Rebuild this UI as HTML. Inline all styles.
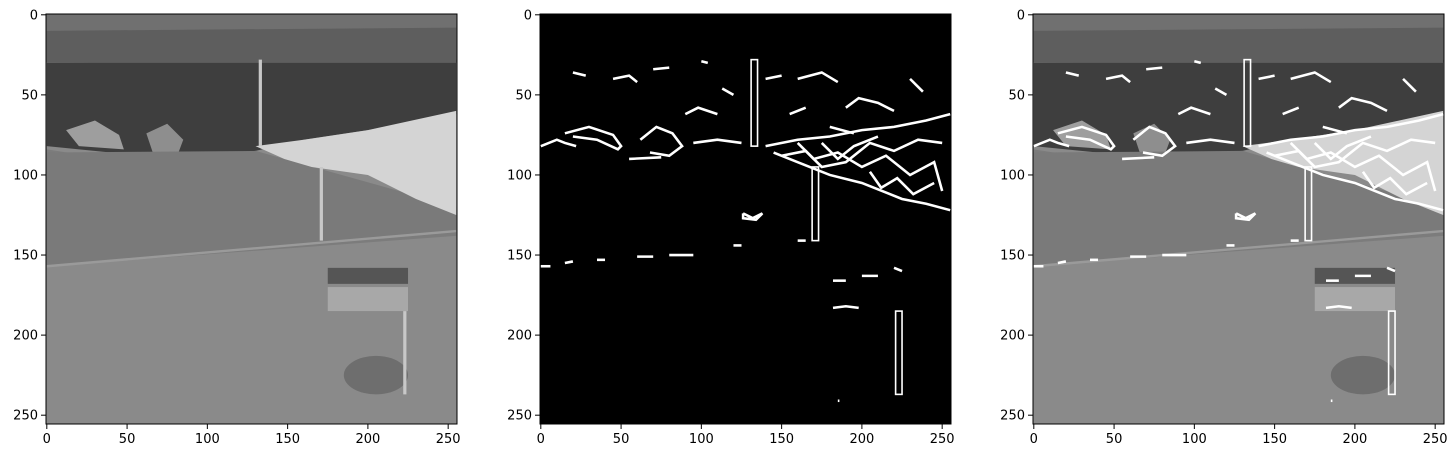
<!DOCTYPE html>
<html><head><meta charset="utf-8"><style>
body{margin:0;background:#fff;width:1455px;height:458px;overflow:hidden;font-family:"DejaVu Sans","Liberation Sans",sans-serif}
svg text{font-family:"DejaVu Sans","Liberation Sans",sans-serif;font-size:13px;fill:#000}
</style></head><body>
<svg id="fig" width="1455" height="458" xmlns="http://www.w3.org/2000/svg"></svg>
<script>
const ticks=[0,50,100,150,200,250];
const panelLefts=[46,540,1033];
const panelModes=["gray","edges","overlay"];
const poles=[[133,28,82],[171,95,141],[223,185,237]];
const edgeLines=[
[[20,36],[28,38]],[[45,40],[55,38],[60,42]],[[70,34],[80,33]],[[100,29],[104,30]],
[[0,82],[10,78],[15,80],[22,82]],[[15,74],[30,70],[45,75],[50,82],[48,84],[35,78],[20,76]],
[[55,90],[75,89]],[[62,78],[72,70],[82,74],[88,82],[80,88],[68,86]],
[[90,62],[98,58],[110,62]],[[95,80],[110,78],[125,80]],[[113,46],[120,50]],
[[140,40],[150,38]],[[160,40],[175,36],[185,42]],[[155,62],[165,58]],
[[190,58],[198,52],[210,55],[220,60]],[[180,70],[195,74]],[[230,40],[238,48]],
[[140,82],[160,78],[180,76],[200,72],[220,70],[240,66],[255,62]],
[[145,86],[160,92],[180,100],[200,105],[225,115],[240,118],[255,122]],
[[160,80],[170,90],[185,86],[200,95],[215,88],[230,100],[245,92],[250,110]],
[[150,88],[165,85],[175,95],[190,92],[205,80],[220,85],[235,78],[250,80]],
[[205,98],[212,108],[222,102],[232,112],[245,105]],[[175,80],[185,90],[195,82],[210,76]],
[[126,124],[132,127],[138,124],[134,128],[126,127],[126,124]],
[[0,157],[6,157]],[[15,155],[20,154]],[[35,153],[40,153]],[[60,151],[70,151]],[[80,150],[95,150]],
[[120,144],[125,144]],[[160,141],[165,141]],[[182,166],[190,166]],[[200,163],[210,163]],[[220,158],[225,160]],
[[182,183],[190,182],[198,183]],[[185,241],[186,241]]
];
const svg=document.getElementById('fig');
const NS='http://www.w3.org/2000/svg';
function mk(t,a,p){const e=document.createElementNS(NS,t);for(const k in a)e.setAttribute(k,a[k]);(p||svg).appendChild(e);return e;}
const W=411,H=410,TOP=14;
panelModes.forEach((mode,i)=>{
  const L=panelLefts[i];
  const g=mk('g',{});
  
  
  const inner=mk('svg',{x:L,y:TOP,width:W,height:H,viewBox:'-0.5 -0.5 256 256',preserveAspectRatio:'none'},g);
  if(mode==='edges'){
    mk('rect',{x:-0.5,y:-0.5,width:256,height:256,fill:'#000'},inner);
  }else{
    mk('rect',{x:-0.5,y:-0.5,width:256,height:256,fill:'#8a8a8a'},inner);
    mk('rect',{x:-0.5,y:-0.5,width:256,height:30,fill:'#707070'},inner);
    mk('polygon',{points:'0,30 255,28 255,62 200,72 160,78 130,85 60,88 0,82',fill:'#3e3e3e'},inner);
    mk('polygon',{points:'0,10 255,8 255,30 0,30',fill:'#5e5e5e'},inner);
    mk('polygon',{points:'12,72 30,66 45,75 48,84 20,82',fill:'#9e9e9e'},inner);
    mk('polygon',{points:'62,74 75,68 85,78 82,86 66,86',fill:'#8e8e8e'},inner);
    mk('polygon',{points:'0,84 255,124 255,138 0,157',fill:'#7c7c7c'},inner);
    mk('polygon',{points:'0,86 130,85 255,120 255,136 0,157',fill:'#7a7a7a'},inner);
    mk('polygon',{points:'130,82 160,78 200,72 255,60 255,125 230,115 200,100 165,95 148,90',fill:'#d4d4d4'},inner);
    mk('rect',{x:175,y:158,width:50,height:10,fill:'#555'},inner);
    mk('rect',{x:175,y:170,width:50,height:15,fill:'#a8a8a8'},inner);
    mk('ellipse',{cx:205,cy:225,rx:20,ry:12,fill:'#6e6e6e'},inner);
    mk('line',{x1:0,y1:157,x2:255,y2:135,stroke:'#9a9a9a','stroke-width':1.5},inner);
  }
  poles.forEach(p=>{
    if(mode==='gray'){
      mk('line',{x1:p[0],y1:p[1],x2:p[0],y2:p[2],stroke:'#c8c8c8','stroke-width':2},inner);
    }else{
      mk('rect',{x:p[0]-2,y:p[1],width:4,height:p[2]-p[1],fill:'none',stroke:'#fff','stroke-width':1},inner);
    }
  });
  if(mode!=='gray'){
    edgeLines.forEach(l=>{
      mk('polyline',{points:l.map(q=>q.join(',')).join(' '),fill:'none',stroke:'#fff','stroke-width':1.6},inner);
    });
  }
  mk('rect',{x:L,y:TOP,width:W,height:H,fill:'none',stroke:'#000','stroke-width':1},g);
  ticks.forEach(t=>{
    const x=L+(t+0.5)*W/256, y=TOP+(t+0.5)*H/256;
    mk('line',{x1:x,y1:TOP+H,x2:x,y2:TOP+H+5,stroke:'#000'},g);
    const tx=mk('text',{x:x,y:TOP+H+19,'text-anchor':'middle'},g);tx.textContent=t;
    
    
    mk('line',{x1:L-5,y1:y,x2:L,y2:y,stroke:'#000'},g);
    const ty=mk('text',{x:L-8,y:y+4.5,'text-anchor':'end'},g);ty.textContent=t;
    
    
  });
});
</script>
</body></html>
